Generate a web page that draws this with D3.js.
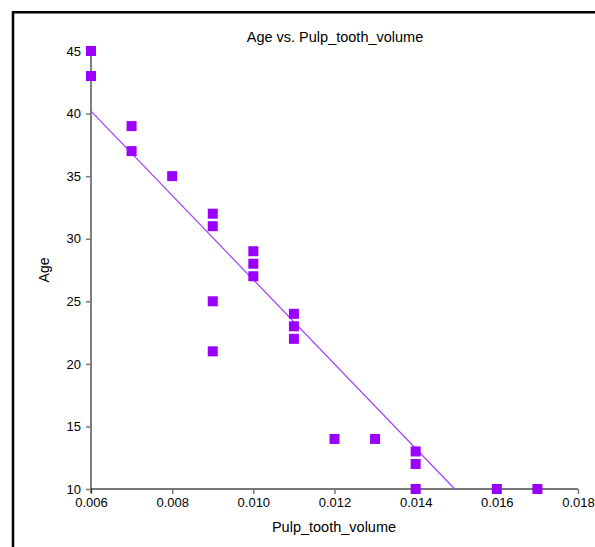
<!DOCTYPE html>
<html><head><meta charset="utf-8">
<script src="https://cdn.jsdelivr.net/npm/d3@7"></script>
<style>
html,body{margin:0;padding:0;background:#fff;}
svg{display:block;font-family:"Liberation Sans",Arial,sans-serif;}
</style></head>
<body>
<svg id="c" width="595" height="547"></svg>
<script>
const pulpVolume = [0.006,0.006,0.007,0.007,0.008,0.009,0.009,0.009,0.009,0.010,0.010,0.010,0.011,0.011,0.011,0.012,0.013,0.014,0.014,0.014,0.016,0.017];
const age = [45,43,39,37,35,32,31,25,21,29,28,27,24,23,22,14,14,13,12,10,10,10];
const xTicks = [0.006,0.008,0.010,0.012,0.014,0.016,0.018];
const yTicks = [10,15,20,25,30,35,40,45];
const title = "Age vs. Pulp_tooth_volume";
const xLabel = "Pulp_tooth_volume";
const yLabel = "Age";

const svg = d3.select("#c");
const x = d3.scaleLinear().domain([0.006,0.018]).range([91,578]);
const y = d3.scaleLinear().domain([10,45]).range([489,51]);

// frame
svg.append("path").attr("d","M13,547 L13,12.3 L595,12.3").attr("fill","none").attr("stroke","#000").attr("stroke-width",2.5);

// title
svg.append("text").attr("x",335).attr("y",41.5).attr("text-anchor","middle").attr("font-size",14.5).text(title);

// x axis
const xa = svg.append("g").attr("transform","translate(0,489)")
  .call(d3.axisBottom(x).tickValues(xTicks).tickFormat(d3.format(".3f")).tickSize(5).tickPadding(4));
xa.select(".domain").attr("stroke","#777").attr("stroke-width",2).attr("d",`M${x(0.006)},0H${x(0.018)}`);
xa.selectAll(".tick line").attr("stroke","#777").attr("stroke-width",1.5);
xa.selectAll(".tick text").attr("font-size",13).attr("font-family","Liberation Sans, Arial, sans-serif").attr("fill","#000");

// y axis
const ya = svg.append("g").attr("transform","translate(91,0)")
  .call(d3.axisLeft(y).tickValues(yTicks).tickSize(5).tickPadding(5));
ya.select(".domain").attr("stroke","#000").attr("stroke-width",1).attr("d",`M0,${y(45)}V${y(10)+4}`);
ya.selectAll(".tick line").attr("stroke","#777").attr("stroke-width",1.5);
ya.selectAll(".tick text").attr("font-size",13).attr("font-family","Liberation Sans, Arial, sans-serif").attr("fill","#000");

// labels
svg.append("text").attr("x",334).attr("y",532).attr("text-anchor","middle").attr("font-size",14.5).text(xLabel);
svg.append("text").attr("transform","translate(49,270) rotate(-90)").attr("text-anchor","middle").attr("font-size",14).text(yLabel);

// regression
const n = pulpVolume.length;
const mx = d3.mean(pulpVolume), my = d3.mean(age);
let sxy=0, sxx=0;
for(let i=0;i<n;i++){sxy+=(pulpVolume[i]-mx)*(age[i]-my); sxx+=(pulpVolume[i]-mx)**2;}
const slope = sxy/sxx, icpt = my - slope*mx;
const xEnd = (10 - icpt)/slope;
svg.append("line").attr("x1",x(0.006)).attr("y1",y(icpt+slope*0.006))
  .attr("x2",x(xEnd)).attr("y2",y(10)).attr("stroke","#a23dff").attr("stroke-width",1.2);

// points
svg.append("g").selectAll("rect").data(pulpVolume).join("rect")
  .attr("x",(d)=>x(d)-5).attr("y",(d,i)=>y(age[i])-5).attr("width",10).attr("height",10).attr("fill","#9900ff");
</script>
</body></html>
